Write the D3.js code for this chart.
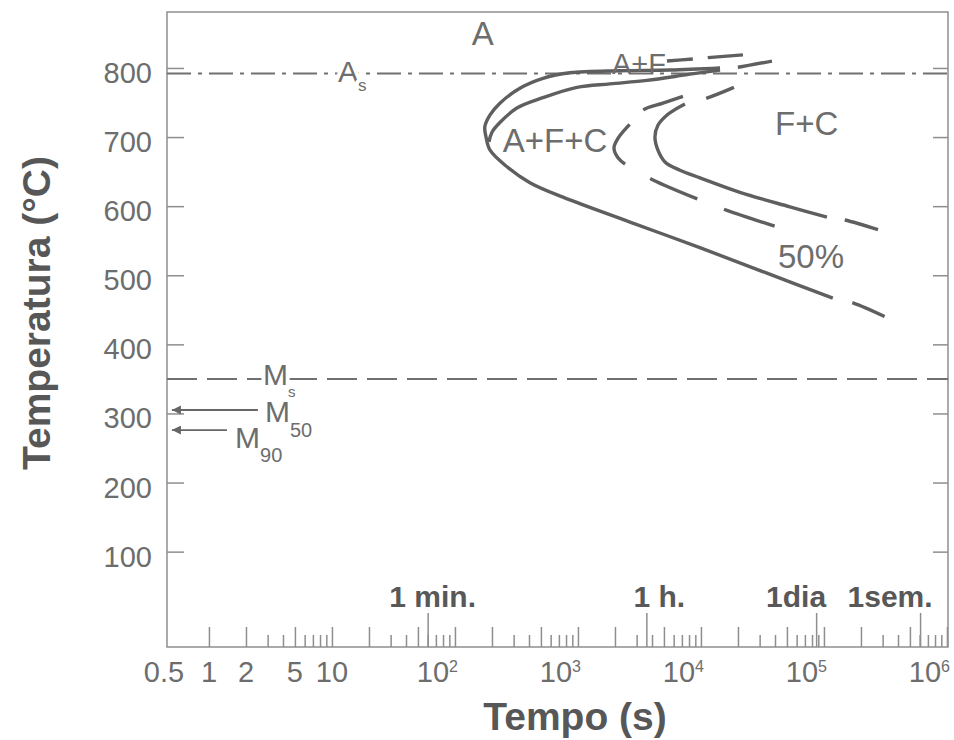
<!DOCTYPE html>
<html>
<head>
<meta charset="utf-8">
<script src="https://cdn.jsdelivr.net/npm/d3@7/dist/d3.min.js"></script>
<style>
	body { margin: 0; background: #fff; }
	svg { display: block; font-family: 'Liberation Sans', Arial, sans-serif; }
	.tick line { stroke: #8e8e8e; stroke-width: 1.5; }
	.domain { display: none; }
</style>
</head>
<body>
<div class="container"></div>
<script>
// temperature axis
var tempTicks = [100, 200, 300, 400, 500, 600, 700, 800];

// time axis (s)
var timeLabels = [0.5, 1, 2, 5, 10];
var timePowers = [2, 3, 4, 5, 6];
var timeMarks = ['1 min.', '1 h.', '1dia', '1sem.'];
var timeMarkSeconds = [60, 3600, 86400, 604800];

// critical temperatures (C)
var As = 792;
var Ms = 350;
var M50 = 305;
var M90 = 276;

// curves as [time s, temperature C]
var ferriteStart = [
	[14300, 800], [5600, 797], [2200, 796], [860, 793], [520, 785], [340, 771],
	[232, 749], [193, 732], [175, 715], [179, 700], [193, 681], [265, 657],
	[407, 634], [755, 613], [2650, 577], [9800, 540], [34400, 503], [118000, 467]
];
var ferriteStartTail = [[118000, 467], [172000, 460], [313000, 440]];
var ferriteStartTop = [[5290, 810], [8610, 813], [11400, 815], [21950, 819]];

var pearliteStart = [
	[14300, 797], [8140, 791], [3640, 782], [1820, 777], [982, 772], [519, 757],
	[319, 742], [232, 721], [200, 707], [189, 693]
];
var pearliteStartTail = [[14300, 797], [20000, 801], [37800, 810]];

var half = [
	[7140, 759], [4911, 749], [3375, 739], [2650, 719], [2115, 698], [1963, 684],
	[2115, 670], [2552, 658], [4070, 638], [9817, 609], [16260, 594], [41500, 570]
];

var finish = [
	[7413, 748], [5395, 733], [4470, 717], [4227, 700], [4470, 681], [5100, 664],
	[6750, 652], [9817, 641], [20760, 620], [52900, 599], [105800, 584]
];
var finishTop = [[7413, 748], [10980, 756], [18550, 772]];
var finishTail = [[105800, 584], [148000, 580], [275000, 566]];

// region labels
var regionLabels = ['A', 'A+F', 'A+F+C', 'F+C', '50%'];
var regionTimes = [137, 1890, 245, 40000, 42300];
var regionTemps = [833, 791, 678, 703, 511];

var svg = d3
	.select('.container')
	.append('svg')
	.attr('width', 954)
	.attr('height', 740);

var x = d3.scaleLog().domain([0.456, 1.02e6]).range([167, 948]);
var y = d3.scaleLinear().domain([-38, 881]).range([647, 12]);

var ink = '#5f5f5f';
var textInk = '#6d6d6d';

// frame
svg
	.append('rect')
	.attr('x', x.range()[0])
	.attr('y', y.range()[1])
	.attr('width', x.range()[1] - x.range()[0])
	.attr('height', y.range()[0] - y.range()[1])
	.attr('fill', 'none')
	.attr('stroke', '#8e8e8e')
	.attr('stroke-width', 1.5);

// x ticks: tall at 1,2,5 per decade, short elsewhere, long at time marks
var shortTicks = [];
var tallTicks = [];
for (var k = 0; k < 6; k++) {
	for (var m = 1; m < 10; m++) {
		var v = m * Math.pow(10, k);
		if (m == 1 || m == 2 || m == 5) tallTicks.push(v);
		else shortTicks.push(v);
	}
}
tallTicks.push(1e6);

[[shortTicks, 12], [tallTicks, 20], [timeMarkSeconds, 34]].forEach(function(t) {
	svg
		.append('g')
		.attr('transform', 'translate(0,' + y.range()[0] + ')')
		.call(d3.axisTop(x).tickValues(t[0]).tickSize(t[1]).tickFormat(''));
});

// y ticks, both sides inward
svg
	.append('g')
	.attr('transform', 'translate(' + x.range()[0] + ',0)')
	.call(d3.axisRight(y).tickValues(tempTicks).tickSize(17).tickFormat(''));
svg
	.append('g')
	.attr('transform', 'translate(' + x.range()[1] + ',0)')
	.call(d3.axisLeft(y).tickValues(tempTicks).tickSize(15).tickFormat(''));

// y labels
var yLab = svg
	.append('g')
	.attr('transform', 'translate(' + x.range()[0] + ',0)')
	.call(d3.axisLeft(y).tickValues(tempTicks).tickSize(0).tickPadding(15));
yLab
	.selectAll('text')
	.attr('dy', '0.5em')
	.style('font-size', '29px')
	.style('font-family', "'Liberation Sans', Arial, sans-serif")
	.attr('fill', textInk);

// x labels
svg
	.append('g')
	.selectAll('text')
	.data(timeLabels)
	.enter()
	.append('text')
	.attr('x', function(d) {
		return d < 1 ? x(d) - 8 : x(d);
	})
	.attr('y', 682)
	.attr('text-anchor', 'middle')
	.attr('font-size', 29)
	.attr('fill', textInk)
	.text(function(d) {
		return d;
	});

var powLab = svg
	.append('g')
	.selectAll('text')
	.data(timePowers)
	.enter()
	.append('text')
	.attr('x', function(d) {
		return x(Math.pow(10, d)) + 3;
	})
	.attr('y', 682)
	.attr('text-anchor', 'end')
	.attr('font-size', 29)
	.attr('fill', textInk);
powLab.append('tspan').text('10');
powLab
	.append('tspan')
	.attr('dy', -10)
	.attr('font-size', 16)
	.text(function(d) {
		return d;
	});

// bold time marks
var markShift = [5, 13, -20, -30];
svg
	.append('g')
	.selectAll('text')
	.data(timeMarks)
	.enter()
	.append('text')
	.attr('x', function(d, i) {
		return x(timeMarkSeconds[i]) + markShift[i];
	})
	.attr('y', 607)
	.attr('text-anchor', 'middle')
	.attr('font-size', 30)
	.attr('font-weight', 'bold')
	.attr('fill', '#585858')
	.text(function(d) {
		return d;
	});

// axis titles
svg
	.append('text')
	.attr('x', 575)
	.attr('y', 730)
	.attr('text-anchor', 'middle')
	.attr('font-size', 39)
	.attr('font-weight', 'bold')
	.attr('fill', '#575757')
	.text('Tempo (s)');

svg
	.append('text')
	.attr('transform', 'translate(50,313) rotate(-90)')
	.attr('text-anchor', 'middle')
	.attr('font-size', 39)
	.attr('font-weight', 'bold')
	.attr('fill', '#575757')
	.text('Temperatura (°C)');

// As and Ms lines
svg
	.append('line')
	.attr('x1', x.range()[0])
	.attr('x2', x.range()[1])
	.attr('y1', y(As))
	.attr('y2', y(As))
	.attr('stroke', '#707070')
	.attr('stroke-width', 2)
	.attr('stroke-dasharray', '24,7,4,7');

svg
	.append('line')
	.attr('x1', x.range()[0])
	.attr('x2', x.range()[1])
	.attr('y1', y(Ms))
	.attr('y2', y(Ms))
	.attr('stroke', '#707070')
	.attr('stroke-width', 2)
	.attr('stroke-dasharray', '30,10');

// curves
var line = d3
	.line()
	.x(function(d) {
		return x(d[0]);
	})
	.y(function(d) {
		return y(d[1]);
	})
	.curve(d3.curveCatmullRom.alpha(0.5));

var curves = [
	{ data: ferriteStart, dash: null },
	{ data: pearliteStart, dash: null },
	{ data: finish, dash: null },
	{ data: half, dash: '42,20,49,29,51,29,53,400' },
	{ data: ferriteStartTail, dash: '0,20,35,400' },
	{ data: ferriteStartTop, dash: '26,15,36,400' },
	{ data: pearliteStartTail, dash: '0,18,35,400' },
	{ data: finishTop, dash: '0,22,30,400' },
	{ data: finishTail, dash: '0,18,35,400' }
];

svg
	.append('g')
	.selectAll('path')
	.data(curves)
	.enter()
	.append('path')
	.attr('d', function(d) {
		return line(d.data);
	})
	.attr('fill', 'none')
	.attr('stroke', ink)
	.attr('stroke-width', 3.4)
	.attr('stroke-dasharray', function(d) {
		return d.dash;
	});

// region labels
svg
	.append('g')
	.selectAll('text')
	.data(regionLabels)
	.enter()
	.append('text')
	.attr('x', function(d, i) {
		return x(regionTimes[i]);
	})
	.attr('y', function(d, i) {
		return y(regionTemps[i]);
	})
	.attr('font-size', function(d) {
		return d == 'A+F' ? 29 : 33;
	})
	.attr('fill', textInk)
	.text(function(d) {
		return d;
	});

// labels sitting on the lines
function sub(tx, tT, main, low, lowSize, lowDy, halo) {
	var t = svg
		.append('text')
		.attr('x', x(tx))
		.attr('y', y(tT))
		.attr('font-size', 30)
		.attr('fill', textInk);
	if (halo) {
		t.attr('stroke', '#fff').attr('stroke-width', 8).attr('paint-order', 'stroke');
	}
	t.append('tspan').text(main);
	t.append('tspan').attr('font-size', lowSize).attr('dy', lowDy).text(low);
}
sub(11.2, 779.5, 'A', 's', 17, 9, true);
sub(2.75, 341.4, 'M', 's', 15, 12, true);
sub(2.85, 287.9, 'M', '50', 20, 15, false);
sub(1.63, 250.3, 'M', '90', 20, 14, false);

// arrows to M50 and M90
svg
	.append('defs')
	.append('marker')
	.attr('id', 'head')
	.attr('viewBox', '0 0 10 10')
	.attr('refX', 10)
	.attr('refY', 5)
	.attr('markerUnits', 'userSpaceOnUse')
	.attr('markerWidth', 16)
	.attr('markerHeight', 9)
	.attr('orient', 'auto')
	.append('path')
	.attr('d', 'M0,0L10,5L0,10Z')
	.attr('fill', '#666');

svg
	.append('g')
	.selectAll('line')
	.data([[2.5, M50], [1.4, M90]])
	.enter()
	.append('line')
	.attr('x1', function(d) {
		return x(d[0]);
	})
	.attr('x2', x(0.5))
	.attr('y1', function(d) {
		return y(d[1]);
	})
	.attr('y2', function(d) {
		return y(d[1]);
	})
	.attr('stroke', '#666')
	.attr('stroke-width', 1.8)
	.attr('marker-end', 'url(#head)');
</script>
</body>
</html>
